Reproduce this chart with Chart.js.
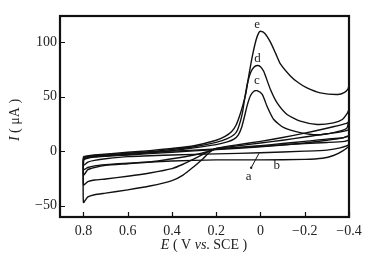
<!DOCTYPE html>
<html><head><meta charset="utf-8">
<script src="https://cdn.jsdelivr.net/npm/chart.js@4.4.0/dist/chart.umd.min.js"></script>
<style>html,body{margin:0;padding:0;background:#fff}canvas{display:block}</style>
</head><body>
<canvas id="c" width="383" height="265" style="width:383px;height:265px"></canvas>
<script>
// ---- data (E in V vs. SCE, I in µA) ----
const xTicks = [0.8, 0.6, 0.4, 0.2, 0, -0.2, -0.4];
const yTicks = [-50, 0, 50, 100];

const curveA = [[0.8,-6],[0.79,-5],[0.75,-4],[0.6,-2],[0.4,0],[0.2,2],[0,4.5],[-0.2,7],[-0.3,8],[-0.38,9],[-0.4,10],
  [-0.4,6],[-0.36,3],[-0.3,1],[-0.2,0],[0,-1.5],[0.2,-2.5],[0.4,-3.5],[0.6,-5],[0.7,-7],[0.75,-8.5],[0.78,-10],[0.8,-13],[0.8,-6]];
const curveB = [[0.8,-7],[0.79,-6],[0.75,-5],[0.6,-3.5],[0.4,-1],[0.2,1.5],[0,4],[-0.2,7.5],[-0.3,10],[-0.37,12],[-0.4,14],
  [-0.4,5],[-0.37,0],[-0.33,-4],[-0.28,-6.5],[-0.2,-7.5],[0,-8],[0.2,-8],[0.4,-9],[0.6,-11],[0.7,-12.5],[0.75,-13.5],[0.78,-15],[0.8,-17],[0.8,-7]];
const curveC = [[0.8,-8],[0.79,-7],[0.75,-5.5],[0.6,-3],[0.5,-1.5],[0.4,0.5],[0.3,3],[0.2,6],[0.15,8.5],[0.12,11],[0.1,15],[0.085,22],[0.072,32],[0.06,42],[0.045,51],[0.03,55],[0.015,55.5],[-0.008,52],[-0.03,41],[-0.06,29],[-0.106,21.5],[-0.18,17],[-0.257,15],[-0.33,17],[-0.39,21],[-0.4,30],
  [-0.4,14],[-0.3,11],[-0.2,9],[-0.1,7],[0,5],[0.1,3.5],[0.2,2],[0.25,-1],[0.3,-3.5],[0.4,-7],[0.5,-10],[0.6,-11.5],[0.7,-13],[0.75,-15],[0.78,-17],[0.8,-22],[0.8,-8]];
const curveD = [[0.8,-7],[0.79,-6],[0.75,-4.5],[0.6,-2],[0.5,-0.5],[0.4,1.5],[0.3,4],[0.2,8],[0.15,11.5],[0.12,15],[0.105,19],[0.09,28],[0.08,37],[0.07,50],[0.058,63],[0.045,72],[0.03,77],[0.015,78.6],[0,77.5],[-0.015,73],[-0.045,56.6],[-0.076,44],[-0.12,33.7],[-0.18,27.5],[-0.257,24.5],[-0.33,26],[-0.37,29],[-0.393,35],[-0.4,38],
  [-0.4,20],[-0.3,16],[-0.2,13],[-0.1,10],[0,7.5],[0.1,5],[0.2,2.5],[0.23,0],[0.26,-3],[0.3,-7],[0.35,-12],[0.4,-16],[0.5,-20],[0.6,-23],[0.7,-25.5],[0.75,-26.5],[0.78,-28],[0.8,-31],[0.8,-7]];
const curveE = [[0.8,-5],[0.79,-4.5],[0.75,-3.5],[0.6,-1],[0.5,0.5],[0.4,2.5],[0.3,5],[0.2,10],[0.16,13.5],[0.13,18],[0.11,24],[0.095,32],[0.08,42],[0.067,52],[0.053,69],[0.037,87],[0.02,102],[0.008,108.5],[0,110],[-0.02,108],[-0.045,100],[-0.07,89],[-0.09,80],[-0.135,69],[-0.17,63],[-0.21,58],[-0.27,53.5],[-0.35,52],[-0.38,54],[-0.395,57],[-0.4,60],
  [-0.4,27],[-0.38,25],[-0.3,21],[-0.2,16.5],[-0.1,12.5],[0,9],[0.1,6],[0.2,2.5],[0.23,-1],[0.26,-7],[0.3,-14],[0.35,-22],[0.4,-27],[0.5,-32],[0.6,-35.5],[0.7,-38.5],[0.75,-40],[0.78,-42],[0.8,-47],[0.8,-5]];

const curveNames = ['a','b','c','d','e'];
const curves = [curveA, curveB, curveC, curveD, curveE];
const labelPos = [[0.053,-23],[-0.073,-12.8],[0.016,65],[0.014,85],[0.015,116]];
const leaderLine = [[0.042,-15.2],[0.007,-2.1]];

const serif = "'Liberation Serif','Times New Roman',serif";

const decorPlugin = {
  id: 'decor',
  afterDraw(chart) {
    const {ctx, chartArea: a, scales: {x, y}} = chart;
    ctx.save();
    ctx.strokeStyle = '#111';
    // inward ticks
    ctx.lineWidth = 1.2;
    ctx.beginPath();
    xTicks.forEach(v => { const px = Math.round(x.getPixelForValue(v)) + 0.5; ctx.moveTo(px, a.bottom); ctx.lineTo(px, a.bottom - 5); });
    yTicks.forEach(v => { const py = Math.round(y.getPixelForValue(v)) + 0.5; ctx.moveTo(a.left, py); ctx.lineTo(a.left + 5, py); });
    ctx.stroke();
    // frame
    ctx.lineWidth = 2.2;
    ctx.strokeRect(a.left, a.top, a.right - a.left, a.bottom - a.top);
    // curve letters
    ctx.fillStyle = '#222';
    ctx.font = '13px ' + serif;
    ctx.textAlign = 'center';
    ctx.textBaseline = 'middle';
    curveNames.forEach((n, i) => ctx.fillText(n, x.getPixelForValue(labelPos[i][0]), y.getPixelForValue(labelPos[i][1])));
    // leader line for a
    ctx.lineWidth = 1;
    ctx.beginPath();
    ctx.moveTo(x.getPixelForValue(leaderLine[0][0]), y.getPixelForValue(leaderLine[0][1]));
    ctx.lineTo(x.getPixelForValue(leaderLine[1][0]), y.getPixelForValue(leaderLine[1][1]));
    ctx.stroke();
    ctx.beginPath();
    ctx.arc(x.getPixelForValue(leaderLine[0][0]), y.getPixelForValue(leaderLine[0][1]), 1.2, 0, Math.PI*2);
    ctx.fill();
    // axis titles
    const drawParts = (parts, cx, cy) => {
      let w = 0;
      parts.forEach(p => { ctx.font = (p[1] ? 'italic ' : '') + '14px ' + serif; w += ctx.measureText(p[0]).width; });
      let xx = cx - w / 2;
      ctx.textAlign = 'left';
      parts.forEach(p => { ctx.font = (p[1] ? 'italic ' : '') + '14px ' + serif; ctx.fillText(p[0], xx, cy); xx += ctx.measureText(p[0]).width; });
    };
    ctx.fillStyle = '#222';
    drawParts([['E', true], [' ( V ', false], ['vs', true], ['. SCE )', false]], 204, 245);
    ctx.save();
    ctx.translate(15, 120);
    ctx.rotate(-Math.PI / 2);
    drawParts([['I', true], [' ( μA )', false]], 0, 0);
    ctx.restore();
    ctx.restore();
  }
};

const fmt = v => (Math.abs(v) < 1e-9 ? '0' : (v < 0 ? '\u2212' + String(Math.abs(v)) : String(v)));

new Chart(document.getElementById('c'), {
  type: 'scatter',
  data: {
    datasets: curves.map((c, i) => ({
      label: curveNames[i],
      data: c.map(p => ({x: p[0], y: p[1]})),
      showLine: true,
      borderColor: '#111',
      borderWidth: 1.4,
      pointRadius: 0,
      tension: 0.2,
      fill: false
    }))
  },
  options: {
    responsive: false,
    animation: false,
    layout: {padding: {left: 0, top: 16, right: 34, bottom: 0}},
    plugins: {legend: {display: false}, tooltip: {enabled: false}},
    scales: {
      x: {
        type: 'linear', reverse: true, min: -0.4, max: 0.906,
        grid: {display: false, drawTicks: false},
        border: {display: false},
        afterBuildTicks: s => { s.ticks = xTicks.map(v => ({value: v})); },
        afterFit: s => { s.height = 48; },
        ticks: {padding: 6, color: '#222', font: {family: serif, size: 14}, callback: v => fmt(v), maxRotation: 0, autoSkip: false}
      },
      y: {
        type: 'linear', min: -60.4, max: 124,
        grid: {display: false, drawTicks: false},
        border: {display: false},
        afterBuildTicks: s => { s.ticks = yTicks.map(v => ({value: v})); },
        afterFit: s => { s.width = 60; },
        ticks: {padding: 3, color: '#222', font: {family: serif, size: 14}, callback: v => fmt(v)}
      }
    }
  },
  plugins: [decorPlugin]
});
</script>
</body></html>
